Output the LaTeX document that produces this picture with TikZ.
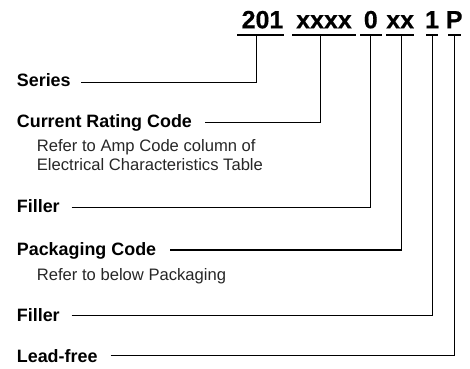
\documentclass[tikz,border=0pt]{standalone}
\usepackage{fontspec}
\setmainfont{Liberation Sans}
\newfontfamily\codefont[FakeBold=0.4]{Liberation Sans}
\begin{document}
\begin{tikzpicture}[x=1pt,y=1pt,
  lbl/.style={anchor=base west,inner sep=0pt,font=\fontsize{17.9}{20}\selectfont\bfseries},
  sub/.style={anchor=base west,inner sep=0pt,text=black!85,font=\fontsize{16.6}{19}\selectfont},
  code/.style={anchor=base,inner sep=0pt,font=\codefont\fontsize{25}{28}\selectfont\bfseries},
  ln/.style={line width=1.3pt,line cap=rect},
  conn/.style={line width=1.2pt}]
\useasboundingbox (0,0) rectangle (470,368);
% code segments
\node[code] (c201) at (262.5,339.7) {201};
\node[code] (cxxxx) at (324,339.7) {xxxx};
\node[code] (c0) at (370.8,339.7) {0};
\node[code] (cxx) at (400.2,339.7) {xx};
\node[code] (c1) at (432,339.7) {1};
\node[code] (cP) at (454.2,339.7) {P};
% underlines
\coordinate (u201a) at (237.7,333); \coordinate (u201b) at (283.3,333);
\coordinate (uxxxxa) at (293,333); \coordinate (uxxxxb) at (355,333);
\coordinate (u0a) at (360.7,333); \coordinate (u0b) at (381,333);
\coordinate (uxxa) at (387,333); \coordinate (uxxb) at (413.3,333);
\coordinate (u1a) at (426.7,333); \coordinate (u1b) at (437.3,333);
\coordinate (uPa) at (448.3,333); \coordinate (uPb) at (460,333);
\draw[ln] (u201a) -- (u201b);
\draw[ln] (uxxxxa) -- (uxxxxb);
\draw[ln] (u0a) -- (u0b);
\draw[ln] (uxxa) -- (uxxb);
\draw[ln] (u1a) -- (u1b);
\draw[ln] (uPa) -- (uPb);
% vertical tap points
\coordinate (v201) at (256.7,333);
\coordinate (vxxxx) at (320.7,333);
\coordinate (v0) at (370.7,333);
\coordinate (vxx) at (401.2,333);
\coordinate (v1) at (432.3,333);
\coordinate (vP) at (454.5,333);
% labels
\node[lbl] (series) at (16.7,282) {Series};
\node[lbl] (crc) at (16.7,240.3) {Current Rating Code};
\node[sub] (crc1) at (36.7,216.3) {Refer to Amp Code column of};
\node[sub] (crc2) at (36.7,197.3) {Electrical Characteristics Table};
\node[lbl] (fill1) at (16.7,155.3) {Filler};
\node[lbl] (pack) at (16.7,112.5) {Packaging Code};
\node[sub] (pack1) at (36.7,88) {Refer to below Packaging};
\node[lbl] (fill2) at (16.7,46.3) {Filler};
\node[lbl] (lead) at (16.7,5.3) {Lead-free};
% line starts
\coordinate (sSeries) at (81,285.3);
\coordinate (sCrc) at (205,245.3);
\coordinate (sFill1) at (71.7,160.3);
\coordinate (sPack) at (170,118);
\coordinate (sFill2) at (71.7,52.3);
\coordinate (sLead) at (110.5,12.7);
% connectors
\draw[conn] (sSeries) -| (v201);
\draw[conn] (sCrc) -| (vxxxx);
\draw[conn] (sFill1) -| (v0);
\draw[conn] (sPack) -| (vxx);
\draw[conn] (sFill2) -| (v1);
\draw[conn] (sLead) -| (vP);
\end{tikzpicture}
\end{document}
